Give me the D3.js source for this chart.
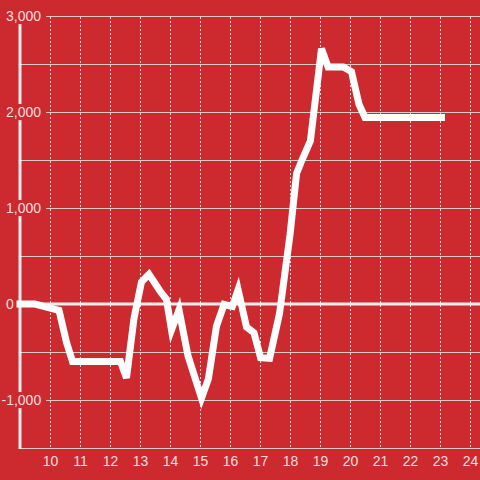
<!DOCTYPE html>
<html>
<head>
<meta charset="utf-8">
<script src="https://cdn.jsdelivr.net/npm/d3@7"></script>
<style>
  html, body { margin: 0; padding: 0; background: #cc2a2f; }
  svg { display: block; font-family: "Liberation Sans", Arial, sans-serif; }
</style>
</head>
<body>
<div id="chart"></div>
<script>
const WIDTH = 480;
const HEIGHT = 480;

// hour of day and value
const hours = [9.0, 9.5, 10.3, 10.55, 10.75, 12.35, 12.55, 12.8, 13.05, 13.3,
    13.7, 13.88, 14.05, 14.3, 14.6, 15.05, 15.28, 15.55, 15.8, 16.08,
    16.27, 16.55, 16.8, 17.02, 17.32, 17.65, 18.0, 18.22, 18.4, 18.68,
    19.05, 19.27, 19.78, 20.05, 20.3, 20.5, 23.05];
const values = [0, 0, -65, -400, -600, -600, -770, -150, 230, 310,
    120, 50, -270, -60, -540, -980, -780, -230, -5, -25,
    150, -240, -300, -560, -565, -100, 720, 1360, 1500, 1700,
    2660, 2470, 2470, 2420, 2080, 1944, 1944];
const xTicks = [10, 11, 12, 13, 14, 15, 16, 17, 18, 19, 20, 21, 22, 23, 24];
const yLabelTicks = [3000, 2000, 1000, 0, -1000];
const yMinorTicks = [2500, 1500, 500, -500];

const data = hours.map((h, i) => ({ h: h, v: values[i] }));

const BG = "#cc2a2f";
const MARGIN = { TOP: 16, BOTTOM: 32, LEFT: 20, RIGHT: 0 };

const x = d3.scaleLinear()
    .domain([9, 9 + (WIDTH - MARGIN.LEFT) / 30])
    .range([MARGIN.LEFT, WIDTH - MARGIN.RIGHT]);
const y = d3.scaleLinear()
    .domain([-1500, 3000])
    .range([HEIGHT - MARGIN.BOTTOM, MARGIN.TOP]);

const svg = d3.select("#chart")
    .append("svg")
    .attr("width", WIDTH)
    .attr("height", HEIGHT);

svg.append("rect")
    .attr("width", WIDTH)
    .attr("height", HEIGHT)
    .attr("fill", BG);

// vertical dotted grid
svg.append("g")
    .selectAll("line")
    .data(xTicks)
    .enter()
    .append("line")
    .attr("x1", d => x(d) + 0.5)
    .attr("x2", d => x(d) + 0.5)
    .attr("y1", y(3000) + 1)
    .attr("y2", y(-1500))
    .attr("stroke", "#e4dede")
    .attr("stroke-width", 1)
    .attr("stroke-dasharray", "2,2");

// horizontal grid
svg.append("g")
    .selectAll("line")
    .data(yMinorTicks.concat([-1500]))
    .enter()
    .append("line")
    .attr("x1", MARGIN.LEFT)
    .attr("x2", WIDTH)
    .attr("y1", d => Math.round(y(d)) + 0.5)
    .attr("y2", d => Math.round(y(d)) + 0.5)
    .attr("stroke", "#d6cccc")
    .attr("stroke-width", 1);

svg.append("g")
    .selectAll("line")
    .data(yLabelTicks.filter(d => d !== 0))
    .enter()
    .append("line")
    .attr("x1", 46)
    .attr("x2", WIDTH)
    .attr("y1", d => Math.round(y(d)) + 0.5)
    .attr("y2", d => Math.round(y(d)) + 0.5)
    .attr("stroke", "#d6cccc")
    .attr("stroke-width", 1);

// zero line and y axis
svg.append("line")
    .attr("x1", MARGIN.LEFT - 1.5)
    .attr("x2", WIDTH)
    .attr("y1", y(0))
    .attr("y2", y(0))
    .attr("stroke", "#f4eeee")
    .attr("stroke-width", 3);

svg.append("line")
    .attr("x1", MARGIN.LEFT)
    .attr("x2", MARGIN.LEFT)
    .attr("y1", y(3000))
    .attr("y2", y(-1500) + 1)
    .attr("stroke", "#f4eeee")
    .attr("stroke-width", 3);

// y labels with background so they cut the axis
const yLabels = svg.append("g")
    .selectAll("g")
    .data(yLabelTicks)
    .enter()
    .append("g");

yLabels.append("text")
    .attr("x", 6)
    .attr("dx", d => d < 0 ? -4.5 : 0)
    .attr("y", d => y(d))
    .attr("dy", "0.36em")
    .attr("font-size", 14)
    .attr("fill", "#f6dede")
    .text(d => d3.format(",")(d).replace("−", "-"));

yLabels.each(function () {
    const g = d3.select(this);
    const b = g.select("text").node().getBBox();
    g.insert("rect", "text")
        .attr("x", b.x - 1)
        .attr("y", b.y)
        .attr("width", b.width + 2)
        .attr("height", b.height)
        .attr("fill", BG);
});

// x labels
svg.append("g")
    .selectAll("text")
    .data(xTicks)
    .enter()
    .append("text")
    .attr("x", d => x(d) + 0.5)
    .attr("y", 466)
    .attr("text-anchor", "middle")
    .attr("font-size", 14)
    .attr("fill", "#f6dede")
    .text(d => d);

// the series
const line = d3.line()
    .x(d => x(d.h))
    .y(d => y(d.v));

svg.append("path")
    .datum(data)
    .attr("d", line)
    .attr("fill", "none")
    .attr("stroke", "#ffffff")
    .attr("stroke-width", 7)
    .attr("stroke-linecap", "square")
    .attr("stroke-linejoin", "miter");
</script>
</body>
</html>
